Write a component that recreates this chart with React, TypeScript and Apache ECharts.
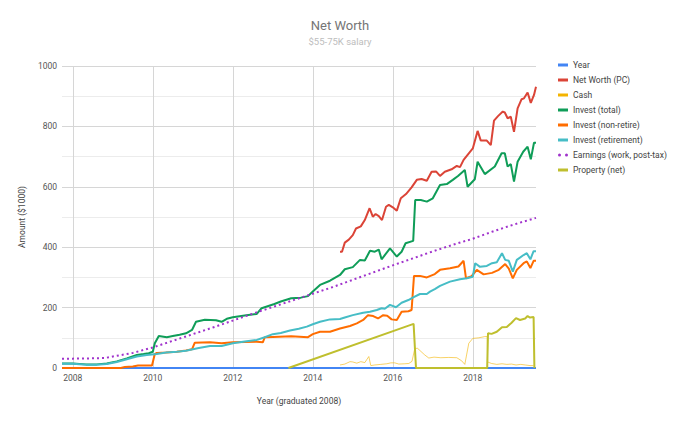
import React, { useEffect, useRef } from "react";
import * as echarts from "echarts";

const xTickYears = [2008, 2010, 2012, 2014, 2016, 2018];
const xMin = 2007.73;
const xMax = 2019.58;

const yearSeries: [number, number][] = [[2007.73, 0], [2019.58, 0]];

const netWorth: [number, number][] = [
  [2014.68, 385], [2014.73, 385], [2014.8, 415], [2014.9, 425], [2015.0, 440], [2015.08, 462], [2015.2, 469],
  [2015.3, 490], [2015.42, 529], [2015.5, 501], [2015.57, 510], [2015.65, 503], [2015.73, 490], [2015.83, 534],
  [2015.9, 540], [2016.0, 532], [2016.1, 521], [2016.2, 562], [2016.33, 576], [2016.47, 598], [2016.6, 623],
  [2016.72, 626], [2016.85, 620], [2016.97, 650], [2017.08, 651], [2017.18, 636], [2017.3, 650], [2017.47, 658],
  [2017.6, 669], [2017.68, 665], [2017.77, 689], [2017.9, 711], [2018.0, 727], [2018.12, 785], [2018.2, 753],
  [2018.35, 753], [2018.45, 738], [2018.53, 819], [2018.63, 834], [2018.75, 849], [2018.8, 846], [2018.87, 827],
  [2018.95, 832], [2019.03, 782], [2019.12, 860], [2019.22, 890], [2019.28, 893], [2019.37, 912], [2019.45, 878],
  [2019.53, 904], [2019.58, 931],
];

const cash: [number, number][] = [
  [2014.68, 10], [2014.8, 13], [2014.93, 21], [2015.0, 20], [2015.1, 16], [2015.2, 21], [2015.3, 18],
  [2015.4, 38], [2015.45, 8], [2015.55, 10], [2015.7, 12], [2015.85, 14], [2015.95, 17], [2016.05, 17],
  [2016.15, 13], [2016.3, 14], [2016.4, 15], [2016.48, 22], [2016.55, 65], [2016.62, 65], [2016.8, 43],
  [2016.9, 33], [2017.03, 36], [2017.2, 34], [2017.4, 35], [2017.6, 34], [2017.72, 24], [2017.8, 12],
  [2017.9, 82], [2018.0, 98], [2018.15, 100], [2018.3, 104], [2018.36, 104], [2018.37, 20], [2018.47, 15],
  [2018.6, 12], [2018.73, 14], [2018.85, 12], [2018.97, 13], [2019.08, 10], [2019.2, 12], [2019.31, 10],
  [2019.43, 8], [2019.52, 8],
];

const investTotal: [number, number][] = [
  [2007.73, 15], [2008.0, 15], [2008.33, 12], [2008.6, 12], [2008.85, 15], [2009.1, 22], [2009.35, 32],
  [2009.6, 43], [2009.77, 46], [2009.9, 49], [2010.0, 54], [2010.05, 82], [2010.15, 106], [2010.35, 102],
  [2010.5, 106], [2010.67, 110], [2010.83, 115], [2010.98, 126], [2011.08, 153], [2011.3, 160], [2011.58, 158],
  [2011.72, 153], [2011.85, 163], [2012.0, 168], [2012.34, 175], [2012.6, 179], [2012.72, 198], [2013.04, 212],
  [2013.2, 220], [2013.46, 231], [2013.7, 233], [2013.88, 238], [2014.0, 253], [2014.18, 275], [2014.43, 289],
  [2014.68, 308], [2014.8, 327], [2015.0, 334], [2015.18, 358], [2015.3, 356], [2015.43, 388], [2015.55, 385],
  [2015.65, 392], [2015.72, 360], [2015.93, 396], [2016.1, 369], [2016.22, 385], [2016.32, 413], [2016.51, 421],
  [2016.56, 556], [2016.7, 556], [2016.85, 551], [2017.0, 562], [2017.18, 606], [2017.35, 609], [2017.5, 623],
  [2017.63, 636], [2017.8, 656], [2017.87, 600], [2018.05, 625], [2018.12, 683], [2018.3, 642], [2018.55, 667],
  [2018.72, 711], [2018.8, 711], [2018.87, 667], [2018.95, 675], [2019.03, 617], [2019.12, 683], [2019.26, 716],
  [2019.37, 733], [2019.45, 691], [2019.53, 746], [2019.58, 746],
];

const investNonRetire: [number, number][] = [
  [2007.73, 0], [2009.2, 0], [2009.3, 3], [2009.5, 5], [2009.63, 8], [2009.98, 8], [2010.05, 46], [2010.1, 50],
  [2010.33, 51], [2010.6, 54], [2010.83, 58], [2010.98, 62], [2011.05, 84], [2011.43, 85], [2011.72, 82],
  [2012.0, 85], [2012.3, 86], [2012.6, 87], [2012.75, 85], [2012.8, 102], [2013.0, 103], [2013.46, 105],
  [2013.88, 102], [2014.0, 112], [2014.18, 120], [2014.43, 120], [2014.68, 131], [2014.93, 139], [2015.1, 148],
  [2015.26, 159], [2015.38, 175], [2015.51, 172], [2015.63, 164], [2015.76, 175], [2015.86, 173], [2015.97, 161],
  [2016.1, 159], [2016.22, 186], [2016.39, 188], [2016.47, 192], [2016.53, 305], [2016.68, 305], [2016.85, 300],
  [2017.05, 311], [2017.18, 325], [2017.43, 330], [2017.64, 336], [2017.77, 355], [2017.83, 297], [2017.97, 304],
  [2018.1, 325], [2018.27, 310], [2018.48, 315], [2018.65, 325], [2018.81, 344], [2018.9, 329], [2019.0, 297],
  [2019.1, 325], [2019.27, 347], [2019.35, 353], [2019.44, 331], [2019.52, 355], [2019.58, 355],
];

const investRetirement: [number, number][] = [
  [2007.73, 14], [2008.0, 14], [2008.33, 11], [2008.6, 11], [2008.85, 13], [2009.1, 20], [2009.35, 29],
  [2009.6, 38], [2009.85, 43], [2010.1, 46], [2010.33, 51], [2010.6, 54], [2010.83, 57], [2011.0, 62],
  [2011.15, 66], [2011.43, 73], [2011.72, 73], [2012.0, 82], [2012.3, 88], [2012.6, 93], [2012.8, 102],
  [2013.0, 112], [2013.2, 116], [2013.43, 124], [2013.65, 130], [2013.85, 137], [2014.0, 145], [2014.18, 153],
  [2014.43, 161], [2014.68, 162], [2014.8, 167], [2015.0, 175], [2015.26, 183], [2015.43, 186], [2015.6, 192],
  [2015.72, 198], [2015.8, 196], [2015.93, 209], [2016.08, 201], [2016.22, 216], [2016.39, 225], [2016.51, 234],
  [2016.68, 245], [2016.85, 245], [2016.93, 253], [2017.05, 261], [2017.18, 272], [2017.43, 286], [2017.68, 294],
  [2017.85, 297], [2018.0, 302], [2018.06, 347], [2018.18, 335], [2018.35, 338], [2018.48, 347], [2018.6, 350],
  [2018.73, 380], [2018.81, 358], [2018.9, 355], [2019.0, 319], [2019.1, 358], [2019.27, 374], [2019.35, 380],
  [2019.44, 360], [2019.52, 387], [2019.58, 387],
];

const earnings: [number, number][] = [
  [2007.73, 31], [2008.0, 31], [2008.5, 32], [2008.8, 33], [2009.0, 38], [2009.5, 50], [2010.0, 68],
  [2010.5, 90], [2011.0, 112], [2011.5, 134], [2012.0, 157], [2012.5, 180], [2013.0, 202], [2013.5, 224],
  [2014.0, 246], [2014.5, 268], [2015.0, 292], [2015.5, 316], [2016.0, 340], [2016.5, 363], [2017.0, 386],
  [2017.5, 408], [2018.0, 428], [2018.5, 452], [2019.0, 474], [2019.58, 497],
];

const property: [number, number][] = [
  [2013.39, 0], [2016.52, 146], [2016.58, 0], [2018.36, 0], [2018.38, 115], [2018.47, 113], [2018.6, 120],
  [2018.73, 135], [2018.85, 136], [2018.97, 150], [2019.08, 165], [2019.18, 159], [2019.31, 164], [2019.37, 172],
  [2019.43, 167], [2019.52, 169], [2019.54, 0],
];

const FONT = "Roboto";
const SMALL = 8.5;

export default function App() {
  const ref = useRef<HTMLDivElement>(null);
  useEffect(() => {
    if (!ref.current) return;
    const chart = echarts.init(ref.current, undefined, { renderer: "svg" });
    const lineSeries = (name: string, data: [number, number][], color: string, width = 2, extra: any = {}) => ({
      name,
      type: "line",
      data,
      showSymbol: false,
      symbol: "none",
      color,
      lineStyle: { color, width },
      ...extra,
    });
    const dots = "path://M1.5,0A1.5,1.5,0,1,1,1.5,3A1.5,1.5,0,1,1,1.5,0Z M8.5,0A1.5,1.5,0,1,1,8.5,3A1.5,1.5,0,1,1,8.5,0Z";
    chart.setOption({
      animation: false,
      textStyle: { fontFamily: FONT },
      title: {
        text: "Net Worth",
        subtext: "$55-75K salary",
        left: "center",
        top: 14,
        itemGap: 4,
        textStyle: { fontSize: 13, fontWeight: "normal", color: "#757575", fontFamily: FONT },
        subtextStyle: { fontSize: 9.5, color: "#bdbdbd", fontFamily: FONT },
      },
      legend: {
        orient: "vertical",
        left: 553,
        top: 54,
        itemWidth: 10,
        itemHeight: 3,
        itemGap: 3,
        textStyle: { fontSize: SMALL, color: "#444", fontFamily: FONT, lineHeight: 12 },
        data: [
          { name: "Year", icon: "rect" },
          { name: "Net Worth (PC)", icon: "rect" },
          { name: "Cash", icon: "rect" },
          { name: "Invest (total)", icon: "rect" },
          { name: "Invest (non-retire)", icon: "rect" },
          { name: "Invest (retirement)", icon: "rect" },
          { name: "Earnings (work, post-tax)", icon: dots, itemStyle: { borderWidth: 0 } },
          { name: "Property (net)", icon: "rect" },
        ],
      },
      grid: { left: 62, right: 144, top: 66, bottom: 54, containLabel: false },
      xAxis: {
        type: "value",
        min: xMin,
        max: xMax,
        name: "Year (graduated 2008)",
        nameLocation: "middle",
        nameGap: 28,
        nameTextStyle: { fontSize: SMALL, color: "#444", fontFamily: FONT },
        axisLine: { show: false },
        axisTick: { show: false },
        splitLine: { show: false },
        axisLabel: {
          customValues: xTickYears,
          formatter: (v: number) => String(Math.round(v)),
          fontSize: SMALL,
          color: "#555",
          margin: 5,
          fontFamily: FONT,
        },
      },
      yAxis: {
        type: "value",
        min: 0,
        max: 1000,
        interval: 200,
        name: "Amount ($1000)",
        nameLocation: "middle",
        nameGap: 31,
        nameTextStyle: { fontSize: SMALL, color: "#444", fontFamily: FONT },
        axisLine: { show: false },
        axisTick: { show: false },
        axisLabel: {
          formatter: (v: number) => String(v),
          fontSize: SMALL,
          color: "#555",
          margin: 5,
          fontFamily: FONT,
        },
        splitLine: { lineStyle: { color: "#d6d6d6", width: 1 } },
        minorTick: { show: false, splitNumber: 2 },
        minorSplitLine: { show: true, lineStyle: { color: "#ececec", width: 1 } },
      },
      series: [
        lineSeries("Year", yearSeries, "#4285f4", 2, {
          markLine: {
            silent: true,
            symbol: "none",
            label: { show: false },
            lineStyle: { color: "#d6d6d6", width: 1, type: "solid" },
            data: xTickYears.map((y) => ({ xAxis: y })),
            z: 0,
          },
        }),
        lineSeries("Net Worth (PC)", netWorth, "#db4437"),
        lineSeries("Cash", cash, "#f4b400", 1, { lineStyle: { color: "#f4b400", width: 1, opacity: 0.6 } }),
        lineSeries("Invest (total)", investTotal, "#0f9d58"),
        lineSeries("Invest (non-retire)", investNonRetire, "#ff6d00"),
        lineSeries("Invest (retirement)", investRetirement, "#46bdc6"),
        lineSeries("Earnings (work, post-tax)", earnings, "#a033cc", 2, {
          lineStyle: { color: "#a033cc", width: 2, type: [2, 3] },
        }),
        lineSeries("Property (net)", property, "#bfbf2e"),
      ],
    });
    return () => chart.dispose();
  }, []);
  return (
    <div
      ref={ref}
      style={{ position: "fixed", left: 0, top: 0, width: 680, height: 422, background: "#fff" }}
    />
  );
}
